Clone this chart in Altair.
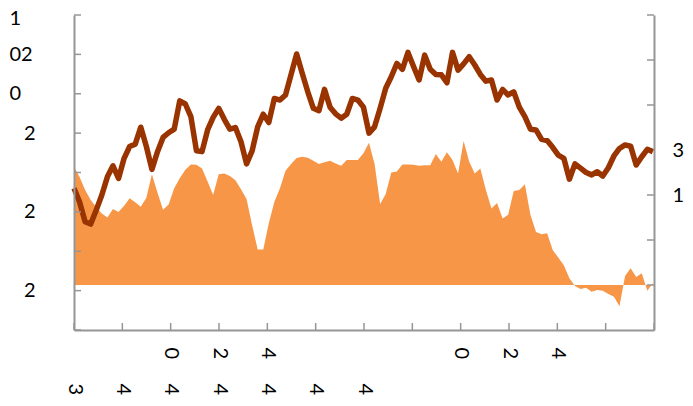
import json
import altair as alt
import pandas as pd

# ---- data ----
line_vals = [3.60, 3.25, 2.75, 2.69, 3.05, 3.43, 3.89, 4.17, 3.85, 4.36,
             4.66, 4.72, 5.15, 4.66, 4.08, 4.53, 4.89, 5.01, 5.10, 5.82,
             5.74, 5.42, 4.55, 4.53, 5.08, 5.40, 5.63, 5.35, 5.10, 5.14,
             4.78, 4.22, 4.55, 5.16, 5.48, 5.27, 5.88, 5.84, 5.97, 6.49,
             7.01, 6.52, 6.05, 5.63, 5.57, 6.11, 5.66, 5.49, 5.38, 5.48,
             5.88, 5.84, 5.66, 5.00, 5.16, 5.63, 6.14, 6.43, 6.77, 6.62,
             7.05, 6.69, 6.35, 6.98, 6.62, 6.49, 6.48, 6.28, 7.05, 6.60,
             6.76, 6.94, 6.73, 6.49, 6.32, 6.35, 5.84, 6.11, 5.97, 6.05,
             5.66, 5.42, 5.10, 5.08, 4.84, 4.81, 4.64, 4.44, 4.36, 3.83,
             4.22, 4.11, 4.00, 3.94, 4.02, 3.91, 4.12, 4.42, 4.61, 4.70,
             4.67, 4.19, 4.40, 4.59, 4.53]

area_vals = [2.63, 2.40, 2.11, 1.89, 1.73, 1.59, 1.50, 1.69, 1.62, 1.76,
             1.93, 1.84, 1.74, 1.94, 2.46, 2.05, 1.67, 1.79, 2.15, 2.37,
             2.56, 2.68, 2.67, 2.59, 2.30, 2.00, 2.46, 2.48, 2.42, 2.33,
             2.13, 1.91, 1.33, 0.79, 0.79, 1.37, 1.85, 2.15, 2.54, 2.69,
             2.82, 2.85, 2.83, 2.76, 2.69, 2.73, 2.76, 2.70, 2.65, 2.78,
             2.78, 2.78, 2.93, 3.16, 2.69, 1.80, 2.02, 2.50, 2.52, 2.68,
             2.68, 2.67, 2.65, 2.66, 2.66, 2.91, 2.74, 2.95, 2.78, 2.48,
             3.20, 2.74, 2.48, 2.59, 2.11, 1.70, 1.82, 1.48, 1.56, 2.09,
             2.11, 2.24, 1.56, 1.18, 1.13, 1.15, 0.78, 0.61, 0.44, 0.15,
             -0.02, -0.09, -0.06, -0.15, -0.11, -0.13, -0.20, -0.26, -0.47, 0.20,
             0.37, 0.18, 0.26, -0.13, 0.04]

x_row1 = ["", "", "0", "2", "4", "", "", "", "0", "2", "4", "", ""]
x_row2 = ["3", "4", "4", "4", "4", "4", "4", "", "", "", "", "", ""]
left_labels = ["", "2", "", "2", "", "2", "0", "02", "1"]     # values 0..8
right_labels = ["", "", "1", "3", "", "", ""]                 # values 0..6

X_MAX = 104.2
N_XTICKS = 12
x_step = X_MAX / N_XTICKS
x_ticks = [round(i * x_step, 4) for i in range(N_XTICKS + 1)]
left_ticks = list(range(0, 9))
right_ticks = list(range(0, 7))

GRAY = "#969696"
FONT = "Lato"
FS = 20

df = pd.DataFrame({"k": list(range(len(line_vals))), "line": line_vals, "area": area_vals})
xt_df = pd.DataFrame({"t": x_ticks})
lt_df = pd.DataFrame({"v": left_ticks})
rt_df = pd.DataFrame({"v": right_ticks})

xscale = alt.Scale(domain=[0, X_MAX], nice=False, zero=False)
lscale = alt.Scale(domain=[0, 8], nice=False, zero=False)
rscale = alt.Scale(domain=[-1, 6], nice=False, zero=False)

W, H = 580, 315
TICK = 7


def xaxis(labels, pad, domain):
    return alt.Axis(orient="bottom", values=x_ticks, title=None, ticks=False,
                    domain=domain, domainColor=GRAY, domainWidth=2,
                    labelExpr=f"{json.dumps(labels)}[round(datum.value / {x_step})]",
                    labelAngle=90, labelPadding=pad, labelFlush=False,
                    labelOverlap=False, labelFont=FONT, labelFontSize=FS,
                    labelColor="black", grid=False, zindex=1)


area = alt.Chart(df).mark_area(color="#F79646").encode(
    x=alt.X("k:Q", scale=xscale, axis=xaxis(x_row2, 53, True)),
    y=alt.Y("area:Q", scale=rscale,
            axis=alt.Axis(orient="right", values=right_ticks, title=None, ticks=False,
                          domainColor=GRAY, domainWidth=2, grid=False, zindex=1,
                          labelExpr=f"{json.dumps(right_labels)}[round(datum.value)]",
                          labelPadding=18, labelFont=FONT, labelFontSize=FS,
                          labelColor="black")),
)
rticks = alt.Chart(rt_df).mark_rule(color=GRAY, strokeWidth=1.5).encode(
    y=alt.Y("v:Q", scale=rscale, axis=None),
    x=alt.value(W - TICK), x2=alt.value(W),
)

line = alt.Chart(df).mark_line(color="#993300", strokeWidth=5.5, strokeJoin="round").encode(
    x=alt.X("k:Q", scale=xscale, axis=xaxis(x_row1, 17, False)),
    y=alt.Y("line:Q", scale=lscale,
            axis=alt.Axis(orient="left", values=left_ticks, title=None, ticks=False,
                          domainColor=GRAY, domainWidth=2, grid=False, zindex=1,
                          labelExpr=f"{json.dumps(left_labels)}[round(datum.value)]",
                          labelAlign={"condition": {"test": "datum.value >= 6", "value": "left"},
                                      "value": "right"},
                          labelPadding={"condition": {"test": "datum.value >= 6", "value": 65},
                                        "value": 39},
                          labelOffset={"condition": {"test": "datum.value >= 8", "value": 3},
                                       "value": 0},
                          labelFont=FONT, labelFontSize=FS, labelColor="black")),
)
lticks = alt.Chart(lt_df).mark_rule(color=GRAY, strokeWidth=1.5).encode(
    y=alt.Y("v:Q", scale=lscale, axis=None),
    x=alt.value(0), x2=alt.value(TICK),
)
xticks = alt.Chart(xt_df).mark_rule(color=GRAY, strokeWidth=1.5).encode(
    x=alt.X("t:Q", scale=xscale, axis=None),
    y=alt.value(H - TICK), y2=alt.value(H),
)

chart = alt.layer(area, rticks, line, lticks, xticks).resolve_scale(
    y="independent"
).resolve_axis(
    x="independent"
).properties(
    width=W, height=H,
    autosize=alt.AutoSizeParams(type="none"),
    padding={"left": 66, "top": 7, "right": 31, "bottom": 68},
).configure_view(stroke=None)

chart.save("out.html", embed_options={"renderer": "svg", "actions": False})
